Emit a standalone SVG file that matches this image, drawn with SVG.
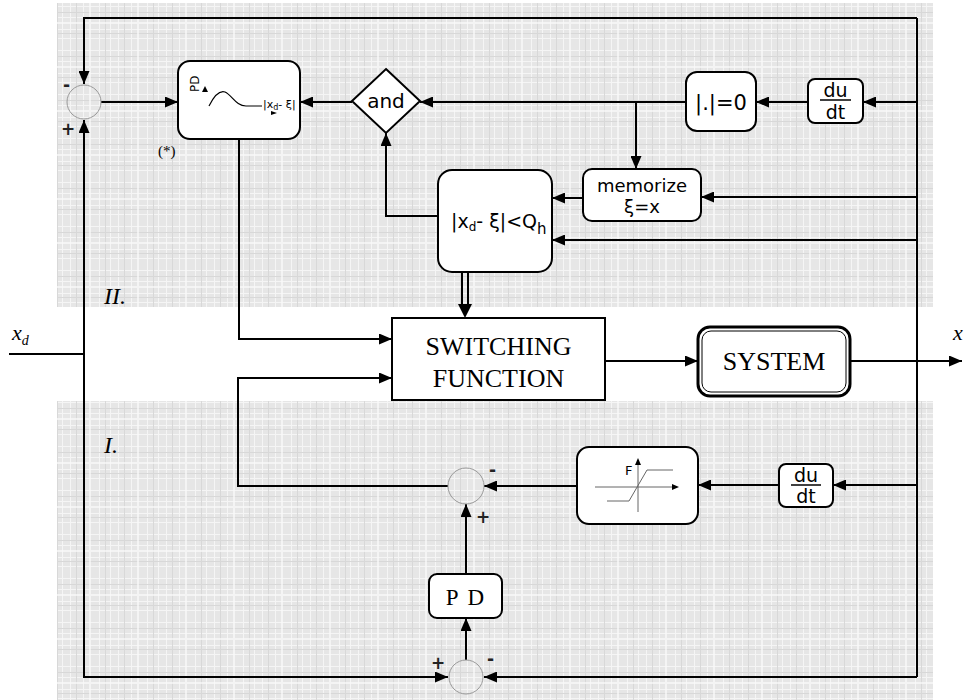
<svg xmlns="http://www.w3.org/2000/svg" width="964" height="700" viewBox="0 0 964 700">
  <defs>
    <pattern id="plaid" width="48" height="44" patternUnits="userSpaceOnUse">
      <rect width="48" height="44" fill="#e6e6e6"/>
      <g stroke="#f5f5f5" stroke-width="1">
        <line x1="3.5" y1="0" x2="3.5" y2="44"/>
        <line x1="14.5" y1="0" x2="14.5" y2="44"/>
        <line x1="22.5" y1="0" x2="22.5" y2="44"/>
        <line x1="35.5" y1="0" x2="35.5" y2="44"/>
        <line x1="0" y1="6.5" x2="48" y2="6.5"/>
        <line x1="0" y1="17.5" x2="48" y2="17.5"/>
        <line x1="0" y1="29.5" x2="48" y2="29.5"/>
        <line x1="0" y1="38.5" x2="48" y2="38.5"/>
      </g>
      <g stroke="#d8d8d8" stroke-width="1">
        <line x1="9.5" y1="0" x2="9.5" y2="44"/>
        <line x1="28.5" y1="0" x2="28.5" y2="44"/>
        <line x1="0" y1="12.5" x2="48" y2="12.5"/>
        <line x1="0" y1="33.5" x2="48" y2="33.5"/>
      </g>
      <g stroke="#fafafa" stroke-width="2" opacity="0.7">
        <line x1="42" y1="0" x2="42" y2="44"/>
        <line x1="0" y1="23" x2="48" y2="23"/>
      </g>
    </pattern>
    <marker id="arr" markerWidth="13" markerHeight="11" refX="13" refY="5.5" orient="auto" markerUnits="userSpaceOnUse">
      <path d="M0,0 L13,5.5 L0,11 Z" fill="#000"/>
    </marker>
  </defs>
  <style>
    .wire { fill: none; stroke: #000; stroke-width: 2; }
    .box { fill: #fff; stroke: #000; stroke-width: 2; }
    .sum { fill: none; stroke: #999; stroke-width: 1; }
    .sans { font-family: "DejaVu Sans", "Liberation Sans", sans-serif; fill: #000; }
    .serif { font-family: "Liberation Serif", "Times New Roman", serif; fill: #000; }
    .thin { fill: none; stroke: #000; stroke-width: 1.2; }
    .sign { font-family: "DejaVu Sans", "Liberation Sans", sans-serif; font-size: 17px; font-weight: bold; fill: #222; }
  </style>

  <rect width="964" height="700" fill="#fff"/>
  <!-- shaded zones -->
  <rect x="57" y="3" width="876" height="304" fill="url(#plaid)"/>
  <rect x="57" y="401" width="876" height="299" fill="url(#plaid)"/>

  <text class="serif" x="104" y="304" font-size="24" font-style="italic">II.</text>
  <text class="serif" x="104" y="453" font-size="24" font-style="italic">I.</text>

  <!-- connectors -->
  <g id="connectors">
    <!-- outer feedback from the output -->
    <path class="wire" d="M917,18 H84 V84" marker-end="url(#arr)"/>
    <path class="wire" d="M917,18 V677"/>
    <!-- reference input -->
    <path class="wire" d="M9,354 H84"/>
    <path class="wire" d="M84,354 V120" marker-end="url(#arr)"/>
    <path class="wire" d="M84,354 V677 H448" marker-end="url(#arr)"/>
    <path class="wire" d="M917,677 H484" marker-end="url(#arr)"/>
    <!-- upper loop -->
    <path class="wire" d="M101,102 H178" marker-end="url(#arr)"/>
    <path class="wire" d="M917,102 H863" marker-end="url(#arr)"/>
    <path class="wire" d="M808,102 H756" marker-end="url(#arr)"/>
    <path class="wire" d="M686,102 H420" marker-end="url(#arr)"/>
    <path class="wire" d="M636,102 V169" marker-end="url(#arr)"/>
    <path class="wire" d="M352,102 H300" marker-end="url(#arr)"/>
    <path class="wire" d="M917,197 H701" marker-end="url(#arr)"/>
    <path class="wire" d="M583,198 H552" marker-end="url(#arr)"/>
    <path class="wire" d="M917,240 H552" marker-end="url(#arr)"/>
    <path class="wire" d="M438,216 H386 V133" marker-end="url(#arr)"/>
    <path class="wire" d="M239,139 V339 H392" marker-end="url(#arr)"/>
    <!-- double enable line -->
    <path class="wire" d="M462,272 V304 M468,272 V304"/>
    <path d="M458,304 L472,304 L465,318 Z" fill="#000"/>
    <!-- main path -->
    <path class="wire" d="M605,361 H698" marker-end="url(#arr)"/>
    <path class="wire" d="M850,361 H962" marker-end="url(#arr)"/>
    <!-- lower loop -->
    <path class="wire" d="M917,485 H833" marker-end="url(#arr)"/>
    <path class="wire" d="M779,485 H698" marker-end="url(#arr)"/>
    <path class="wire" d="M577,486 H484" marker-end="url(#arr)"/>
    <path class="wire" d="M448,486 H238 V378 H392" marker-end="url(#arr)"/>
    <path class="wire" d="M466,574 V504" marker-end="url(#arr)"/>
    <path class="wire" d="M466,660 V618" marker-end="url(#arr)"/>
  </g>

  <!-- summing junctions -->
  <g id="sum-top">
    <circle class="sum" cx="84" cy="102" r="17"/>
    <text class="sign" x="63" y="91">-</text>
    <text class="sign" x="61" y="135">+</text>
  </g>
  <g id="sum-mid">
    <circle class="sum" cx="466" cy="486" r="18"/>
    <text class="sign" x="489" y="476">-</text>
    <text class="sign" x="476" y="523">+</text>
  </g>
  <g id="sum-bottom">
    <circle class="sum" cx="466" cy="677" r="17"/>
    <text class="sign" x="431" y="669">+</text>
    <text class="sign" x="487" y="665">-</text>
  </g>

  <g id="pd-profile">
    <rect class="box" x="178" y="61" width="122" height="78" rx="12"/>
    <text class="sans" font-size="12" transform="translate(199,92) rotate(-90)">PD</text>
    <path d="M202,92 L208,92 L205,86 Z" fill="#000"/>
    <path class="thin" d="M209,106 C214,96 219,90 225,92 C232,95 236,106 246,106 L262,106"/>
    <text class="sans" x="263" y="108" font-size="11">|x<tspan font-size="8" dy="2">d</tspan><tspan dy="-2">- ξ|</tspan></text>
    <path d="M271,111 L277,113 L271,115 Z" fill="#000"/>
    <text class="serif" x="158" y="156" font-size="15">(*)</text>
  </g>

  <g id="and-gate">
    <path class="box" d="M386,69 L420,101 L386,133 L352,101 Z"/>
    <text class="sans" x="386" y="108" font-size="20" text-anchor="middle">and</text>
  </g>

  <g id="zero-test">
    <rect class="box" x="686" y="72" width="70" height="59" rx="11"/>
    <text class="sans" x="721" y="110" font-size="21" text-anchor="middle">|.|=0</text>
  </g>

  <g id="deriv-top">
    <rect class="box" x="808" y="79" width="55" height="44" rx="7"/>
    <text class="sans" x="835.5" y="97" font-size="19" text-anchor="middle">du</text>
    <line x1="820" y1="100" x2="851" y2="100" stroke="#000" stroke-width="1.5"/>
    <text class="sans" x="835.5" y="119" font-size="19" text-anchor="middle">dt</text>
  </g>

  <g id="memorize">
    <rect class="box" x="583" y="169" width="118" height="52" rx="9"/>
    <text class="sans" x="642" y="192" font-size="18" text-anchor="middle">memorize</text>
    <text class="sans" x="642" y="213" font-size="18" text-anchor="middle">ξ=x</text>
  </g>

  <g id="threshold">
    <rect class="box" x="438" y="170" width="114" height="102" rx="14"/>
    <text class="sans" x="451" y="228" font-size="19">|x<tspan font-size="12" dy="3">d</tspan><tspan dy="-3">- ξ|&lt;Q</tspan><tspan font-size="15" dy="6">h</tspan></text>
  </g>

  <g id="switching">
    <rect class="box" x="392" y="318" width="213" height="82"/>
    <text class="serif" x="498.5" y="355" font-size="26" text-anchor="middle">SWITCHING</text>
    <text class="serif" x="498.5" y="387" font-size="26" text-anchor="middle">FUNCTION</text>
  </g>

  <g id="system">
    <rect x="698" y="327" width="152" height="69" rx="12" fill="#fff" stroke="#000" stroke-width="3"/>
    <rect x="702" y="331" width="144" height="61" rx="9" fill="none" stroke="#000" stroke-width="1"/>
    <text class="serif" x="774" y="370" font-size="26" text-anchor="middle">SYSTEM</text>
  </g>

  <g id="friction">
    <rect class="box" x="577" y="447" width="121" height="77" rx="12"/>
    <line x1="595" y1="487" x2="672" y2="487" stroke="#666" stroke-width="1"/>
    <path d="M672,484 L679,487 L672,490 Z" fill="#000"/>
    <line x1="638" y1="512" x2="638" y2="465" stroke="#666" stroke-width="1"/>
    <path d="M635,465 L638,458 L641,465 Z" fill="#000"/>
    <text class="sans" x="625" y="475" font-size="13">F</text>
    <path d="M607,501 H629 L647,470 H673" fill="none" stroke="#666" stroke-width="1"/>
  </g>

  <g id="deriv-bottom">
    <rect class="box" x="779" y="464" width="54" height="43" rx="7"/>
    <text class="sans" x="806" y="482" font-size="19" text-anchor="middle">du</text>
    <line x1="791" y1="485" x2="821" y2="485" stroke="#000" stroke-width="1.5"/>
    <text class="sans" x="806" y="503" font-size="19" text-anchor="middle">dt</text>
  </g>

  <g id="pd">
    <rect class="box" x="429" y="574" width="73" height="44" rx="8"/>
    <text class="serif" x="466" y="605" font-size="23" text-anchor="middle" letter-spacing="2">P D</text>
  </g>

  <g id="labels">
    <text class="serif" x="12" y="340" font-size="22" font-style="italic">x<tspan font-size="14" dy="5">d</tspan></text>
    <text class="serif" x="953" y="340" font-size="22" font-style="italic">x</text>
  </g>
</svg>
